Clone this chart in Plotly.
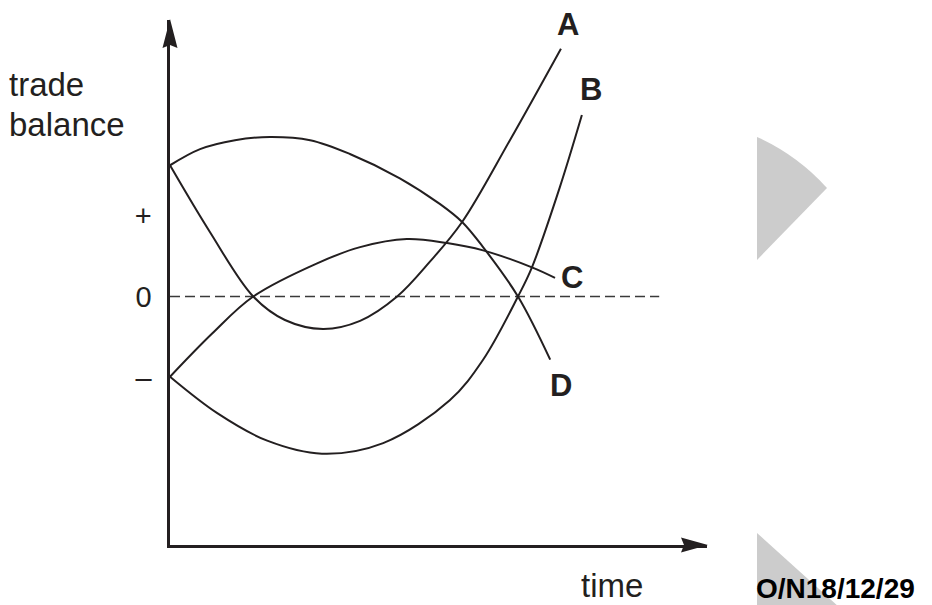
import plotly.graph_objects as go

# ---------------- data (time units, trade-balance units) ----------------
A_t = [0.00, 0.74, 1.55, 2.14, 2.85, 3.54, 4.23, 4.84, 5.44, 6.33, 7.28]
A_b = [1.62, 0.80, 0.00, -0.29, -0.40, -0.30, 0.00, 0.43, 0.92, 1.93, 3.06]

B_t = [0.00, 0.88, 1.81, 2.83, 3.97, 5.21, 5.83, 6.48, 6.74, 7.26, 7.67]
B_b = [-0.99, -1.44, -1.78, -1.94, -1.81, -1.28, -0.78, 0.00, 0.36, 1.35, 2.24]

C_t = [0.00, 0.78, 1.55, 2.74, 3.54, 4.41, 5.16, 5.83, 6.74, 7.17]
C_b = [-0.99, -0.46, 0.00, 0.41, 0.61, 0.71, 0.66, 0.57, 0.36, 0.23]

D_t = [0.00, 0.56, 1.21, 1.86, 2.61, 3.35, 4.28, 5.03, 5.44, 5.83, 6.48, 7.08]
D_b = [1.62, 1.82, 1.93, 1.97, 1.93, 1.76, 1.46, 1.14, 0.92, 0.61, 0.00, -0.78]

CURVE_NAMES = ["A", "B", "C", "D"]
LABEL_T = [7.41, 7.84, 7.49, 7.28]
LABEL_B = [3.36, 2.55, 0.23, -1.10]

ZERO_LINE_T = [0.0, 9.11]
ZERO_LINE_B = [0.0, 0.0]

TICK_VALS = [1, 0, -1]
TICK_TEXT = ["+", "0", "\u2013"]

X_RANGE = [0, 10]
Y_RANGE = [-3.068, 3.414]

# ---------------- layout geometry ----------------
W, H = 932, 605
L, R, T, BOT = 170, 707, 20, 545
PW, PH = R - L, BOT - T

INK = "#231f20"
FONT = "Liberation Sans, Arial, sans-serif"


def fx(p):
    return (p - L) / PW


def fy(p):
    return (BOT - p) / PH


def P(x, y):
    return "%.5f,%.5f" % (fx(x), fy(y))


fig = go.Figure()

fig.add_trace(go.Scatter(x=ZERO_LINE_T, y=ZERO_LINE_B, mode="lines",
                         line=dict(color="#3a3a3a", width=1.3, dash="10px,5px"),
                         hoverinfo="skip"))

for t, b in [(A_t, A_b), (B_t, B_b), (C_t, C_b), (D_t, D_b)]:
    fig.add_trace(go.Scatter(x=t, y=b, mode="lines",
                             line=dict(color=INK, width=2, shape="spline", smoothing=1.0),
                             hoverinfo="skip"))

annotations = []
for name, lt, lb in zip(CURVE_NAMES, LABEL_T, LABEL_B):
    annotations.append(dict(x=lt, y=lb, xref="x", yref="y", text="<b>%s</b>" % name,
                            showarrow=False, font=dict(family=FONT, size=31, color=INK),
                            xanchor="center", yanchor="middle"))

annotations += [
    dict(x=fx(7), y=fy(84), xref="paper", yref="paper", text="trade", showarrow=False,
         font=dict(family=FONT, size=33, color=INK), xanchor="left", yanchor="middle"),
    dict(x=fx(7), y=fy(124), xref="paper", yref="paper", text="balance", showarrow=False,
         font=dict(family=FONT, size=33, color=INK), xanchor="left", yanchor="middle"),
    dict(x=fx(612), y=fy(585), xref="paper", yref="paper", text="time", showarrow=False,
         font=dict(family=FONT, size=33, color=INK), xanchor="center", yanchor="middle"),
    dict(x=fx(755), y=fy(605), xref="paper", yref="paper", text="<b>O/N18/12/29</b>",
         showarrow=False, font=dict(family=FONT, size=28, color="#000000"),
         xanchor="left", yanchor="bottom", borderpad=0),
]

shapes = [
    # gray page-edge marks
    dict(type="path", xref="paper", yref="paper", layer="below",
         path="M %s Q %s %s L %s Z" % (P(757, 137), P(797, 155), P(827, 188), P(757, 260)),
         fillcolor="#cccccc", line=dict(width=0)),
    dict(type="path", xref="paper", yref="paper", layer="below",
         path="M %s L %s L %s Z" % (P(757, 533), P(870, 635), P(757, 635)),
         fillcolor="#cccccc", line=dict(width=0)),
    # axis arrowheads
    dict(type="path", xref="paper", yref="paper", layer="above",
         path="M %s L %s L %s L %s Z" % (P(170, 19), P(177.5, 48), P(170, 45), P(162.5, 48)),
         fillcolor=INK, line=dict(width=0)),
    dict(type="path", xref="paper", yref="paper", layer="above",
         path="M %s L %s L %s L %s Z" % (P(708, 545), P(681, 537.5), P(684, 545), P(681, 552.5)),
         fillcolor=INK, line=dict(width=0)),
]

fig.update_layout(
    width=W, height=H,
    margin=dict(l=L, r=W - R, t=T, b=H - BOT, pad=0),
    paper_bgcolor="white", plot_bgcolor="white",
    showlegend=False,
    annotations=annotations,
    shapes=shapes,
    xaxis=dict(range=X_RANGE, showgrid=False, zeroline=False, showticklabels=False,
               ticks="", showline=True, linecolor=INK, linewidth=2.6, fixedrange=True),
    yaxis=dict(range=Y_RANGE, showgrid=False, zeroline=False, tickvals=TICK_VALS,
               ticktext=TICK_TEXT, ticks="", showline=True, linecolor=INK, linewidth=2.6,
               tickfont=dict(family=FONT, size=29, color=INK), ticklabelstandoff=10,
               fixedrange=True),
)

fig.write_html(
    "out.html",
    config={"displayModeBar": False, "staticPlot": True},
    post_script="document.body.style.margin='0px';document.body.style.overflow='hidden';",
)
